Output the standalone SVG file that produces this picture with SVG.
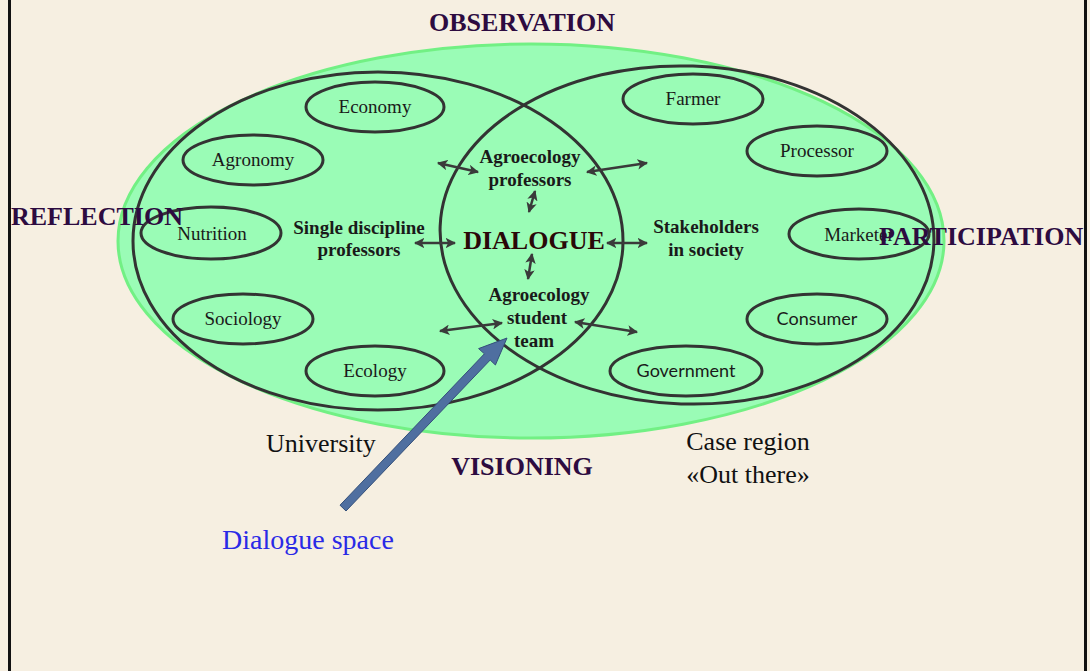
<svg xmlns="http://www.w3.org/2000/svg" width="1090" height="671" viewBox="0 0 1090 671">
  <defs>
    <marker id="ah" viewBox="0 0 10 10" refX="9" refY="5" markerWidth="4.2" markerHeight="4.2" orient="auto-start-reverse" markerUnits="strokeWidth">
      <path d="M0,0 L10,5 L0,10 L2.5,5 Z" fill="#3a3a3a"/>
    </marker>
  </defs>
  <style>
    .ring { fill: none; stroke: #333; stroke-width: 3; }
    .node { fill: none; stroke: #333; stroke-width: 3; }
    .lbl { font-family: "Liberation Serif", "Times New Roman", serif; font-size: 19px; fill: #1a1a1a; text-anchor: middle; }
    .lbls { font-family: Lato, "Open Sans", "Liberation Sans", sans-serif; font-size: 18px; fill: #1a1a1a; text-anchor: middle; }
    .bold { font-family: "Liberation Serif", "Times New Roman", serif; font-size: 19px; font-weight: bold; fill: #1a1a1a; text-anchor: middle; }
    .head { font-family: "Liberation Serif", "Times New Roman", serif; font-size: 26px; font-weight: bold; fill: #2d0b40; }
    .plain { font-family: "Liberation Serif", "Times New Roman", serif; font-size: 26px; fill: #111; }
    .link { fill: none; stroke: #3a3a3a; stroke-width: 2.5; marker-start: url(#ah); marker-end: url(#ah); }
  </style>

  <!-- slide background and side edges -->
  <rect x="0" y="0" width="1090" height="671" fill="#f6efe1"/>
  <rect x="8" y="0" width="3" height="671" fill="#111"/>
  <rect x="1084" y="0" width="3" height="671" fill="#111"/>

  <!-- shared dialogue field -->
  <ellipse cx="531" cy="241" rx="413" ry="197" fill="#9afcb6" stroke="#72f084" stroke-width="3"/>

  <!-- University and case region -->
  <g id="university">
    <ellipse class="ring" cx="378" cy="241" rx="245" ry="169"/>
    <text class="plain" x="266" y="452">University</text>
  </g>
  <g id="case-region">
    <ellipse class="ring" cx="687" cy="235" rx="247" ry="169" transform="rotate(2 687 235)"/>
    <text class="plain" x="748" y="450" text-anchor="middle">Case region</text>
    <text class="plain" x="748" y="483" text-anchor="middle">«Out there»</text>
  </g>

  <!-- disciplines -->
  <g id="economy"><ellipse class="node" cx="375" cy="107" rx="69" ry="25"/><text class="lbl" x="375" y="113">Economy</text></g>
  <g id="agronomy"><ellipse class="node" cx="253" cy="160" rx="70" ry="25"/><text class="lbl" x="253" y="166">Agronomy</text></g>
  <g id="nutrition"><ellipse class="node" cx="211" cy="233" rx="70" ry="26"/><text class="lbl" x="212" y="240">Nutrition</text></g>
  <g id="sociology"><ellipse class="node" cx="243" cy="319" rx="70" ry="25"/><text class="lbl" x="243" y="325">Sociology</text></g>
  <g id="ecology"><ellipse class="node" cx="375" cy="371" rx="69" ry="25"/><text class="lbl" x="375" y="377">Ecology</text></g>

  <!-- stakeholders -->
  <g id="farmer"><ellipse class="node" cx="693" cy="99" rx="70" ry="25"/><text class="lbl" x="693" y="105">Farmer</text></g>
  <g id="processor"><ellipse class="node" cx="817" cy="151" rx="70" ry="25"/><text class="lbl" x="817" y="157">Processor</text></g>
  <g id="marketer"><ellipse class="node" cx="859" cy="234" rx="70" ry="25"/><text class="lbl" x="859" y="241">Marketer</text></g>
  <g id="consumer"><ellipse class="node" cx="817" cy="319" rx="70" ry="25"/><text class="lbls" x="817" y="325">Consumer</text></g>
  <g id="government"><ellipse class="node" cx="686" cy="371" rx="76" ry="25"/><text class="lbls" x="686" y="377">Government</text></g>

  <!-- actors -->
  <g id="single-discipline">
    <text class="bold" x="359" y="234">Single discipline</text>
    <text class="bold" x="359" y="256">professors</text>
  </g>
  <g id="stakeholders">
    <text class="bold" x="706" y="233">Stakeholders</text>
    <text class="bold" x="706" y="256">in society</text>
  </g>
  <g id="agro-professors">
    <text class="bold" x="530" y="163">Agroecology</text>
    <text class="bold" x="530" y="186">professors</text>
  </g>
  <g id="student-team">
    <text class="bold" x="539" y="301">Agroecology</text>
    <text class="bold" x="537" y="324">student</text>
    <text class="bold" x="534" y="347">team</text>
  </g>
  <g id="dialogue">
    <text x="534" y="249" text-anchor="middle" font-family="Liberation Serif, serif" font-size="26" font-weight="bold" fill="#2a0808">DIALOGUE</text>
  </g>

  <!-- two-way exchanges -->
  <g id="connectors">
    <line class="link" x1="438" y1="163" x2="478" y2="172"/>
    <line class="link" x1="587" y1="172" x2="647" y2="163"/>
    <line class="link" x1="535" y1="191" x2="529" y2="212"/>
    <line class="link" x1="415" y1="243" x2="455" y2="243"/>
    <line class="link" x1="607" y1="243" x2="647" y2="243"/>
    <line class="link" x1="532" y1="254" x2="528" y2="279"/>
    <line class="link" x1="440" y1="331" x2="502" y2="323"/>
    <line class="link" x1="575" y1="322" x2="637" y2="332"/>
  </g>

  <!-- process labels -->
  <text class="head" x="522" y="31" text-anchor="middle">OBSERVATION</text>
  <text class="head" x="11" y="225">REFLECTION</text>
  <text class="head" x="879" y="245">PARTICIPATION</text>
  <text class="head" x="522" y="475" text-anchor="middle" fill="#2a0a0a">VISIONING</text>

  <!-- pointer to the shared space -->
  <g id="dialogue-space">
    <polygon points="340,505.2 484.4,353.8 478.6,348.6 507,338 495.4,365 490.2,360 346,511" fill="#4f6fa0" stroke="#34507a" stroke-width="1"/>
    <text x="222" y="549" font-family="Liberation Serif, serif" font-size="28" fill="#2a2ae6">Dialogue space</text>
  </g>
</svg>
